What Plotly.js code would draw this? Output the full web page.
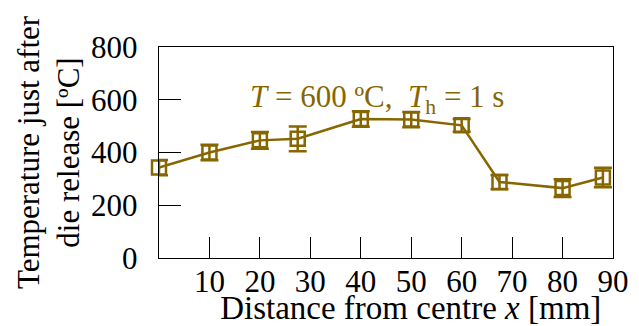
<!DOCTYPE html>
<html>
<head>
<meta charset="utf-8">
<script src="https://cdn.plot.ly/plotly-3.0.1.min.js"></script>
<style>html,body{margin:0;padding:0;background:#fff;}#chart{width:639px;height:326px;}</style>
</head>
<body>
<div id="chart"></div>
<script>
const distance = [0, 10, 20, 27.5, 40, 50, 60, 67.5, 80, 88];
const temperature = [343, 400, 446, 452, 527, 525, 503, 288, 265, 305];
const tempError = [29, 29, 32, 47, 29, 29, 24, 27, 34, 37];
const xTicks = [10, 20, 30, 40, 50, 60, 70, 80, 90];
const yTicks = [0, 200, 400, 600, 800];

const col = 'rgb(135,102,0)';
const font = 'Liberation Serif, Times New Roman, serif';

const trace = {
  x: distance, y: temperature, type: 'scatter', mode: 'lines+markers',
  line: {color: col, width: 2.5},
  marker: {symbol: 'square-open', size: 14, color: col, line: {color: col, width: 2.5}},
  error_y: {type: 'data', array: tempError, visible: true, color: col, thickness: 2.5, width: 9},
  showlegend: false, cliponaxis: false
};

const layout = {
  width: 639, height: 326,
  margin: {l: 159, r: 26, t: 47, b: 68},
  paper_bgcolor: '#fff', plot_bgcolor: '#fff',
  font: {family: font, size: 31, color: '#000'},
  xaxis: {
    range: [0, 90], tickvals: xTicks, ticktext: xTicks.map(String),
    ticks: 'inside', ticklen: 21, tickwidth: 1.2, tickcolor: '#000',
    showline: true, linecolor: '#000', linewidth: 1.2, mirror: true,
    showgrid: false, zeroline: false,
    ticklabelstandoff: -4,
    tickfont: {family: font, size: 31},
    title: {text: '&nbsp;&nbsp;&nbsp;&nbsp;&nbsp;&nbsp;Distance from centre <i>x</i> [mm]', font: {family: font, size: 33}, standoff: 0}
  },
  yaxis: {
    range: [0, 800], tickvals: yTicks, ticktext: yTicks.map(String),
    ticks: 'inside', ticklen: 22, tickwidth: 1.2, tickcolor: '#000',
    showline: true, linecolor: '#000', linewidth: 1.2, mirror: true,
    showgrid: false, zeroline: false,
    ticklabelstandoff: 14,
    tickfont: {family: font, size: 31},
    title: {text: 'Temperature just after<br>die release [ºC]', font: {family: font, size: 31}, standoff: 2}
  },
  annotations: [{
    xref: 'paper', yref: 'paper', x: 0.48, y: 0.755, xanchor: 'center', yanchor: 'middle',
    showarrow: false,
    text: '<i>T</i> = 600 ºC,&nbsp;&nbsp;<i>T</i><sub>h</sub> = 1 s',
    font: {family: font, size: 31, color: col}
  }]
};

Plotly.newPlot('chart', [trace], layout, {displayModeBar: false, staticPlot: true});
</script>
</body>
</html>
